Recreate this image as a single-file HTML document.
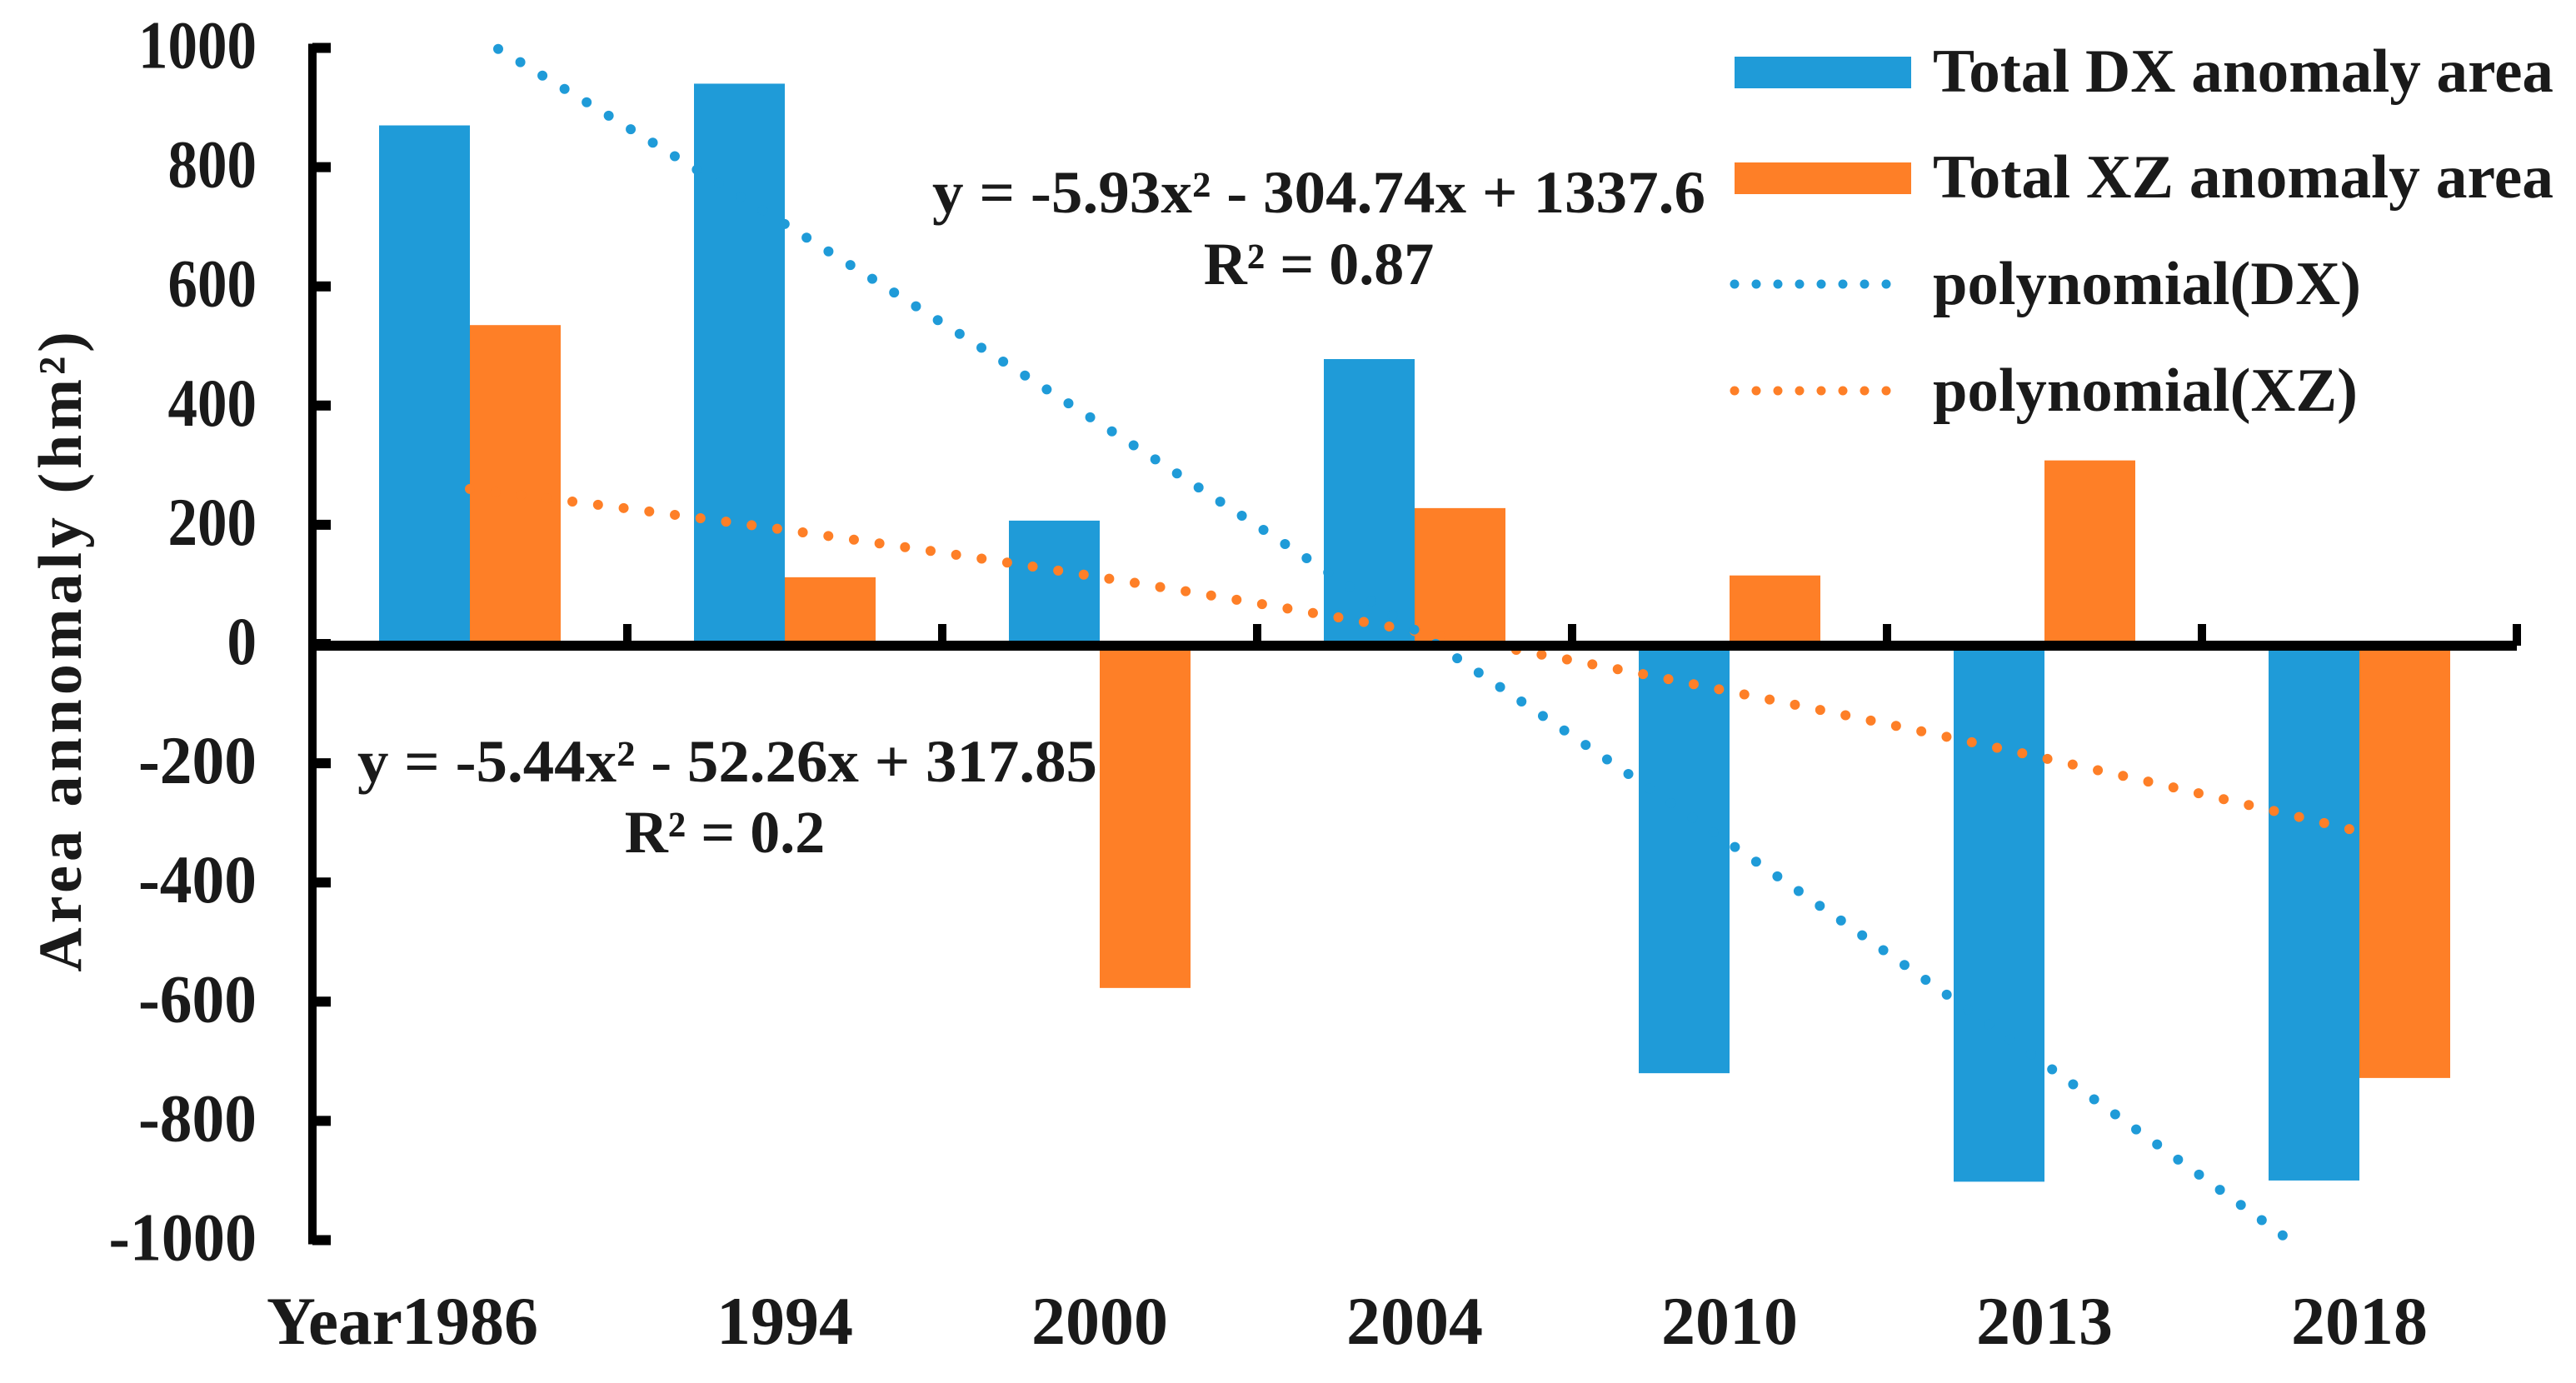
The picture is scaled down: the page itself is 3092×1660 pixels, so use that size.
<!DOCTYPE html>
<html><head><meta charset="utf-8"><style>
html,body{margin:0;padding:0;background:#fff;}
svg{display:block;font-family:"Liberation Serif",serif;font-weight:bold;}
</style></head><body>
<svg id="chart" width="3092" height="1660" viewBox="0 0 3092 1660" xmlns="http://www.w3.org/2000/svg">
<g id="bars"></g>
<g id="trends"></g>
<g id="axes"></g>
<text transform="translate(97,780) rotate(-90)" text-anchor="middle" font-size="74" letter-spacing="5" fill="#1a1a1a">Area annomaly (hm²)</text>
<text x="320" y="1613" font-size="82" textLength="163" lengthAdjust="spacingAndGlyphs" fill="#1a1a1a">Year</text>
<g>
<rect x="2082" y="68" width="212" height="38" fill="#1f9bd8"/>
<text x="2320" y="110" font-size="74" textLength="745" lengthAdjust="spacingAndGlyphs" fill="#1a1a1a">Total DX anomaly area</text>
<rect x="2082" y="195" width="212" height="38" fill="#fe7f27"/>
<text x="2320" y="237" font-size="74" textLength="745" lengthAdjust="spacingAndGlyphs" fill="#1a1a1a">Total XZ anomaly area</text>
<line x1="2082" y1="341" x2="2290" y2="341" stroke="#1f9bd8" stroke-width="11" stroke-linecap="round" stroke-dasharray="0 26"/>
<text x="2320" y="365" font-size="74" textLength="514" lengthAdjust="spacingAndGlyphs" fill="#1a1a1a">polynomial(DX)</text>
<line x1="2082" y1="469" x2="2290" y2="469" stroke="#fe7f27" stroke-width="11" stroke-linecap="round" stroke-dasharray="0 26"/>
<text x="2320" y="493" font-size="74" textLength="510" lengthAdjust="spacingAndGlyphs" fill="#1a1a1a">polynomial(XZ)</text>
</g>
<text x="1119" y="255" font-size="72" textLength="928" lengthAdjust="spacingAndGlyphs" fill="#1a1a1a">y = -5.93x² - 304.74x + 1337.6</text>
<text x="1583" y="341" text-anchor="middle" font-size="72" fill="#1a1a1a">R² = 0.87</text>
<text x="429" y="938" font-size="72" textLength="888" lengthAdjust="spacingAndGlyphs" fill="#1a1a1a">y = -5.44x² - 52.26x + 317.85</text>
<text x="870" y="1023" text-anchor="middle" font-size="72" fill="#1a1a1a">R² = 0.2</text>
</svg>
<script>
const categories = ["1986","1994","2000","2004","2010","2013","2018"];
const dxValues = [870, 940, 207, 478, -720, -902, -900];
const xzValues = [535, 112, -577, 228, 115, 308, -728];
const dxPoly = [-5.93, -304.74, 1337.6];
const xzPoly = [-5.44, -52.26, 317.85];
const yTicks = [1000, 800, 600, 400, 200, 0, -200, -400, -600, -800, -1000];

const NS = "http://www.w3.org/2000/svg";
const X0 = 375, CW = 378, Y0 = 773, PX = 0.7155;
const yS = v => Y0 - v * PX;
const xC = i => X0 + CW * (i + 0.5);
function mk(tag, attrs, parent) {
  const e = document.createElementNS(NS, tag);
  for (const k in attrs) e.setAttribute(k, attrs[k]);
  parent.appendChild(e);
  return e;
}
const bars = document.getElementById("bars");
const trends = document.getElementById("trends");
const axes = document.getElementById("axes");
const BW = 109;
categories.forEach((c, i) => {
  const cx = xC(i);
  const a = dxValues[i], b = xzValues[i];
  const r1 = mk("rect", {x: cx - BW, y: Math.min(yS(a), Y0), width: BW, height: Math.abs(yS(a) - Y0), fill: "#1f9bd8"}, bars);
  
  
  const r2 = mk("rect", {x: cx, y: Math.min(yS(b), Y0), width: BW, height: Math.abs(yS(b) - Y0), fill: "#fe7f27"}, bars);
  
  
  const t = mk("text", {x: cx, y: 1613, "text-anchor": "middle", "font-size": 82, fill: "#1a1a1a"}, axes);
  t.textContent = c;
  
  
});
// trendlines
function poly(cf, x) { return cf[0] * x * x + cf[1] * x + cf[2]; }
function trend(cf, color, name) {
  const n = categories.length;
  let pts = [];
  for (let k = 0; k <= 600; k++) {
    const xv = 1 + (n - 1) * k / 600;
    const v = poly(cf, xv);
    if (v > 1000 || v < -1000) continue;
    const px = xC(0) + (xv - 1) * CW;
    pts.push(px.toFixed(1) + "," + yS(v).toFixed(1));
  }
  const p = mk("polyline", {points: pts.join(" "), fill: "none", stroke: color, "stroke-width": 12, "stroke-linecap": "round", "stroke-dasharray": "0 31"}, trends);
  
  
}
trend(xzPoly, "#fe7f27", "trendline-xz");
trend(dxPoly, "#1f9bd8", "trendline-dx");
// axes
const ya = mk("line", {x1: X0, y1: yS(1000) - 5, x2: X0, y2: yS(-1000) + 5, stroke: "#000", "stroke-width": 10}, axes);


const xa = mk("line", {x1: X0, y1: Y0 + 2, x2: X0 + CW * categories.length, y2: Y0 + 2, stroke: "#000", "stroke-width": 12}, axes);


for (let i = 1; i <= categories.length; i++) {
  const tk = mk("line", {x1: X0 + CW * i, y1: Y0 - 24, x2: X0 + CW * i, y2: Y0 + 2, stroke: "#000", "stroke-width": 10}, axes);
  
  
}
yTicks.forEach(v => {
  const tk = mk("line", {x1: X0, y1: yS(v), x2: X0 + 22, y2: yS(v), stroke: "#000", "stroke-width": 12}, axes);
  
  
  const s = String(v);
  const t = mk("text", {x: 308, y: yS(v) + 24, "text-anchor": "end", "font-size": 82, textLength: s.length * 35.5, lengthAdjust: "spacingAndGlyphs", fill: "#1a1a1a"}, axes);
  t.textContent = s;
  
  
});
</script>
</body></html>
